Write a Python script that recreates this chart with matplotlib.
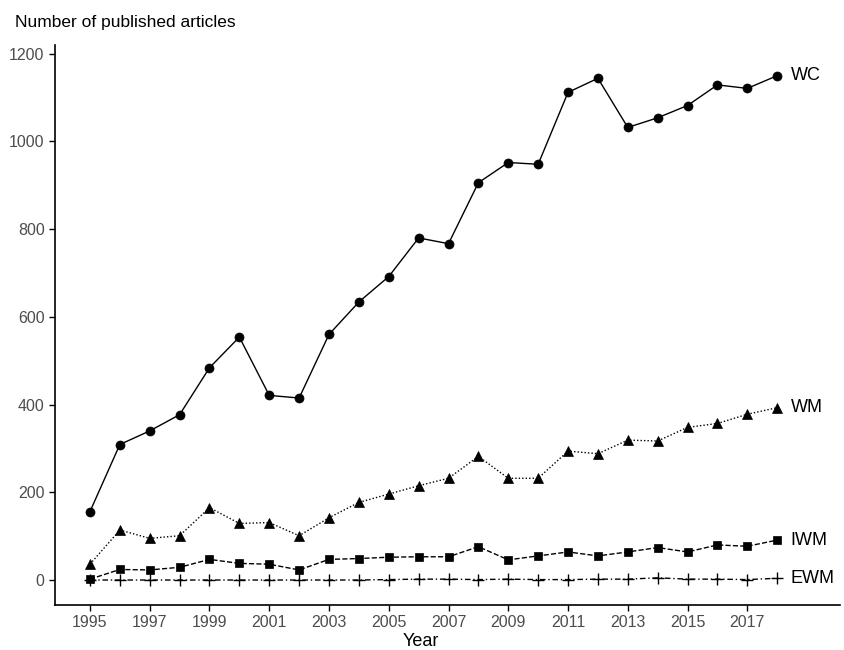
import numpy as np
import matplotlib
matplotlib.use("Agg")
import matplotlib.pyplot as plt

plt.rcParams["font.family"] = ["Liberation Sans", "DejaVu Sans"]

years = np.arange(1995, 2019)
wc = [156, 309, 340, 377, 484, 554, 421, 415, 560, 634, 692, 780, 767,
      906, 952, 948, 1112, 1144, 1032, 1054, 1082, 1129, 1121, 1150]
wm = [36, 114, 95, 101, 165, 129, 131, 101, 142, 177, 196, 215, 232,
      282, 232, 232, 294, 288, 319, 317, 348, 357, 378, 393]
iwm = [2, 24, 23, 29, 47, 38, 36, 23, 47, 49, 52, 53, 53,
       76, 46, 55, 64, 55, 64, 74, 64, 80, 77, 91]
ewm = [0, 0, 0, 0, 0, 0, 0, 0, 0, 0, 1, 2, 2,
       1, 2, 1, 1, 2, 2, 5, 2, 2, 1, 4]

series = [
    ("WC", wc, "o", "-", 6.5),
    ("WM", wm, "^", (0, (1, 1.5)), 7),
    ("IWM", iwm, "s", "--", 6),
    ("EWM", ewm, "+", (0, (4, 2, 1, 2)), 9),
]

fig = plt.figure(figsize=(8.45, 6.5), dpi=100)
ax = fig.add_axes([0.0651, 0.0692, 0.9289, 0.8616])

for name, vals, mk, ls, ms in series:
    ax.plot(years, vals, color="black", linestyle=ls, linewidth=1.0,
            marker=mk, markersize=ms, markeredgewidth=1.0 if mk == "+" else 0.5)
    ax.text(2018.45, vals[-1], name, ha="left", va="center", fontsize=13)

ax.set_xlim(1993.83, 2020.1)
ax.set_ylim(-57, 1220)
ax.set_xticks(np.arange(1995, 2018, 2))
ax.set_yticks([0, 200, 400, 600, 800, 1000, 1200])
ax.tick_params(axis="both", colors="#4d4d4d", labelsize=11.5, length=4, width=1)
ax.tick_params(axis="both", color="black")

for side in ["top", "right"]:
    ax.spines[side].set_visible(False)
for side in ["left", "bottom"]:
    ax.spines[side].set_linewidth(1.2)

ax.set_xlabel("Year", fontsize=13)
ax.xaxis.set_label_coords(0.466, -0.05)
fig.text(0.018, 0.965, "Number of published articles", fontsize=12.5, ha="left", va="center")

fig.savefig("out.png", dpi=100)
